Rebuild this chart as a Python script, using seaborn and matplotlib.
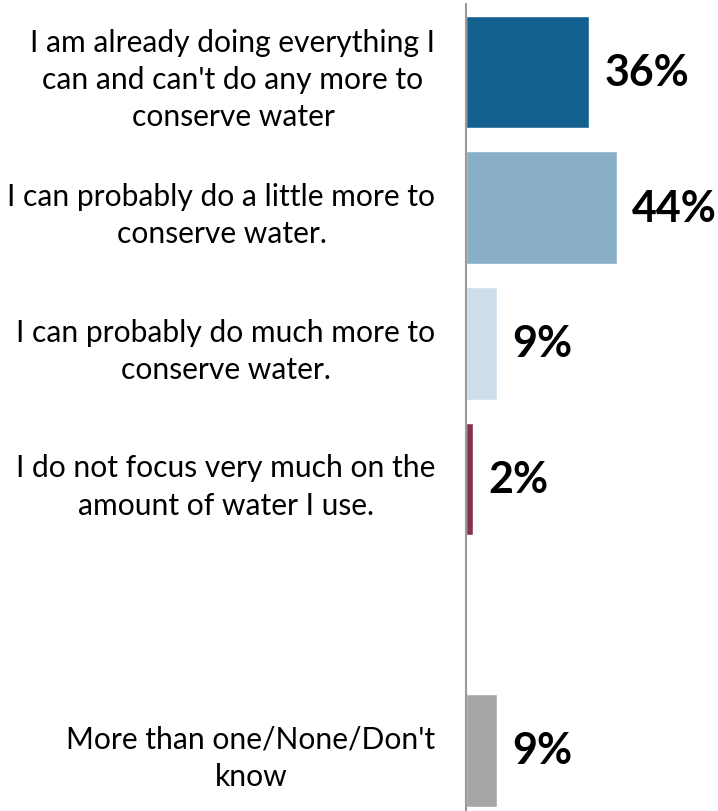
import pandas as pd
import seaborn as sns
from matplotlib import pyplot as plt

categories = [
    "I am already doing everything I\ncan and can't do any more to\nconserve water",
    "I can probably do a little more to\nconserve water.",
    "I can probably do much more to\nconserve water.",
    "I do not focus very much on the\namount of water I use.",
    " ",
    "More than one/None/Don't\nknow",
]
values = [36, 44, 9, 2, 0, 9]
value_labels = ["36%", "44%", "9%", "2%", "", "9%"]
colors = ["#14608F", "#8AAFC9", "#CFDFEA", "#873150", "#FFFFFF", "#A6A6A6"]

df = pd.DataFrame({"answer": categories, "pct": values})

sns.set_style("white")
plt.rcParams["font.family"] = ["Lato", "DejaVu Sans"]

W, H = 718, 812
fig = plt.figure(figsize=(W / 100, H / 100), dpi=100)
# axes: spine at x=466px, top at y=5px
slot = 135.7
top_px = 5
ax = fig.add_axes([466 / W, 0, 1 - 466 / W, (H - top_px) / H])

sns.barplot(data=df, x="pct", y="answer", hue="answer", palette=colors,
            orient="h", width=0.83, legend=False, ax=ax, saturation=1)

ax.set_xlim(0, (W - 466) / 3.43)
ax.set_ylim(-0.5 + (H - top_px) / slot, -0.5)

for i, cont in enumerate(ax.containers):
    ax.bar_label(cont, labels=[value_labels[i]], padding=11,
                 fontsize=31, fontweight="bold", color="black")

ax.set_xlabel("")
ax.set_ylabel("")
ax.set_xticks([])
ax.tick_params(axis="y", length=0, pad=22, labelsize=21.6, labelcolor="black")
for lab in ax.get_yticklabels():
    lab.set_multialignment("center")
    lab.set_linespacing(1.4)

for s in ["top", "right", "bottom"]:
    ax.spines[s].set_visible(False)
ax.spines["left"].set_color("#999999")
ax.spines["left"].set_linewidth(1.5)

fig.savefig("out.png", dpi=100)
